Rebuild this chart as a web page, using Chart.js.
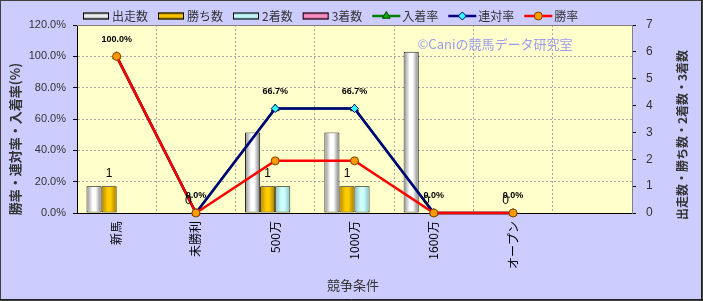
<!DOCTYPE html>
<html>
<head>
<meta charset="utf-8">
<script src="https://cdn.jsdelivr.net/npm/chart.js@4.4.1/dist/chart.umd.min.js"></script>
<style>
  html, body { margin: 0; padding: 0; background: #ccccff; }
</style>
</head>
<body>
<canvas id="chart" width="703" height="301"></canvas>
<script>
// data
const categories = ['新馬', '未勝利', '500万', '1000万', '1600万', 'オープン', ''];
const starts   = [1, 0, 3, 3, 6, 0, null];
const wins     = [1, 0, 1, 1, 0, 0, null];
const seconds  = [0, 0, 1, 1, 0, 0, null];
const thirds   = [0, 0, 0, 0, 0, 0, null];
const placeRate    = [100, 0, 66.7, 66.7, 0, 0, null];
const quinellaRate = [100, 0, 66.7, 66.7, 0, 0, null];
const winRate      = [100, 0, 33.3, 33.3, 0, 0, null];
const leftTicks  = [0, 20, 40, 60, 80, 100, 120];
const rightTicks = [0, 1, 2, 3, 4, 5, 6, 7];

const CJK = '"Noto Sans CJK JP", "Noto Sans", sans-serif';
const SANS = '"Liberation Sans", Arial, sans-serif';

function barSet(label, data, shade) {
    return {
        type: 'bar', label, data, yAxisID: 'y1', order: 4,
        backgroundColor: shade[1], borderColor: '#000', borderWidth: 1,
        borderSkipped: false, shade,
        categoryPercentage: 0.76, barPercentage: 1
    };
}

function lineSet(label, data, color, style, fill, edge, order) {
    return {
        type: 'line', label, data, yAxisID: 'y', order,
        borderColor: color, borderWidth: 2.5, tension: 0, clip: false,
        pointStyle: style, pointRadius: style === 'triangle' ? 4.5 : 4,
        pointBackgroundColor: fill, pointBorderColor: edge, pointBorderWidth: 1
    };
}

const datasets = [
    barSet('出走数', starts,  ['#8a8a8a', '#ffffff', '#7a7a7a']),
    barSet('勝ち数', wins,    ['#b08400', '#ffcc00', '#a07800']),
    barSet('2着数',  seconds, ['#88bbbb', '#ccffff', '#88bbbb']),
    barSet('3着数',  thirds,  ['#bb5588', '#ff99cc', '#bb5588']),
    lineSet('入着率', placeRate,    '#008000', 'triangle', '#00b000', '#004000', 3),
    lineSet('連対率', quinellaRate, '#000080', 'rectRot',  '#33ffff', '#000080', 2),
    lineSet('勝率',   winRate,      '#ff0000', 'circle',   '#ff9900', '#804000', 1)
];

// backgrounds and outer frame
const backdrop = {
    id: 'backdrop',
    beforeDraw(chart) {
        const { ctx, chartArea: a } = chart;
        ctx.save();
        ctx.fillStyle = '#ccccff';
        ctx.fillRect(0, 0, chart.width, chart.height);
        ctx.fillStyle = '#ffffcc';
        ctx.fillRect(a.left, a.top, a.right - a.left, a.bottom - a.top);
        ctx.restore();
    },
    beforeDatasetsDraw(chart) {
        const { ctx, chartArea: a } = chart;
        ctx.save();
        ctx.strokeStyle = '#808080';
        ctx.lineWidth = 1;
        ctx.beginPath();
        ctx.moveTo(a.left, a.top + 0.5); ctx.lineTo(a.right, a.top + 0.5);
        ctx.stroke();
        ctx.restore();
    },
    afterDraw(chart) {
        const ctx = chart.ctx;
        ctx.save();
        ctx.strokeStyle = '#404040';
        ctx.lineWidth = 1;
        ctx.strokeRect(0.5, 0.5, chart.width - 1, chart.height - 1);
        ctx.strokeStyle = '#202020';
        ctx.beginPath();
        ctx.moveTo(0, chart.height - 1.5); ctx.lineTo(chart.width, chart.height - 1.5);
        ctx.moveTo(chart.width - 1.5, 0); ctx.lineTo(chart.width - 1.5, chart.height);
        ctx.stroke();
        ctx.restore();
    }
};

// cylinder shading on the bars
const barShade = {
    id: 'barShade',
    afterDatasetDraw(chart, args) {
        const ds = chart.data.datasets[args.index];
        if (ds.type !== 'bar') return;
        const ctx = chart.ctx;
        ctx.save();
        args.meta.data.forEach(bar => {
            const { x, y, base, width } = bar.getProps(['x', 'y', 'base', 'width'], true);
            const h = base - y;
            if (!(h > 2)) return;
            const left = x - width / 2;
            const g = ctx.createLinearGradient(left, 0, left + width, 0);
            g.addColorStop(0, ds.shade[0]);
            g.addColorStop(0.4, ds.shade[1]);
            g.addColorStop(0.6, ds.shade[1]);
            g.addColorStop(1, ds.shade[2]);
            ctx.fillStyle = g;
            ctx.fillRect(left + 1, y + 1, width - 2, h - 2);
        });
        ctx.restore();
    }
};

// value labels, titles, watermark, legend
const labels = {
    id: 'labels',
    afterDatasetsDraw(chart) {
        const ctx = chart.ctx;
        ctx.save();
        ctx.textAlign = 'center';

        // counts over the 勝ち数 bars
        ctx.font = '12px ' + SANS;
        ctx.fillStyle = '#000';
        ctx.textBaseline = 'bottom';
        chart.getDatasetMeta(1).data.forEach((bar, i) => {
            if (wins[i] === null) return;
            ctx.fillText(String(wins[i]), bar.x, bar.y - 6);
        });

        // rates over the 連対率 points
        ctx.font = 'bold 9px ' + SANS;
        ctx.textBaseline = 'middle';
        chart.getDatasetMeta(5).data.forEach((pt, i) => {
            if (quinellaRate[i] === null) return;
            ctx.fillText(quinellaRate[i].toFixed(1) + '%', pt.x, pt.y - 17);
        });

        ctx.font = '13px ' + CJK;
        ctx.fillStyle = '#9c9cf0';
        ctx.fillText('©Caniの競馬データ研究室', 495, 44);
        ctx.restore();
    },
    afterDraw(chart) {
        const ctx = chart.ctx;
        ctx.save();
        ctx.fillStyle = '#333';
        ctx.textBaseline = 'middle';
        ctx.textAlign = 'center';

        ctx.font = 'bold 13px ' + CJK;
        ctx.save();
        ctx.translate(15, 139);
        ctx.rotate(-Math.PI / 2);
        ctx.fillText('勝率・連対率・入着率(%)', 0, 0);
        ctx.restore();

        ctx.font = 'bold 12px ' + CJK;
        ctx.save();
        ctx.translate(682, 135);
        ctx.rotate(-Math.PI / 2);
        ctx.fillText('出走数・勝ち数・2着数・3着数', 0, 0);
        ctx.restore();

        ctx.font = '13px ' + CJK;
        ctx.fillText('競争条件', 353, 285);

        // legend
        ctx.font = '12px ' + CJK;
        ctx.textAlign = 'left';
        let x = 83;
        const cy = 16;
        chart.data.datasets.forEach(ds => {
            if (ds.type === 'bar') {
                const g = ctx.createLinearGradient(0, cy - 3.5, 0, cy + 3.5);
                g.addColorStop(0, ds.shade[0]);
                g.addColorStop(0.5, ds.shade[1]);
                g.addColorStop(1, ds.shade[2]);
                ctx.fillStyle = g;
                ctx.fillRect(x, cy - 3.5, 26, 7);
                ctx.strokeStyle = '#000';
                ctx.lineWidth = 1;
                ctx.strokeRect(x + 0.5, cy - 3, 25, 6);
                x += 29;
            } else {
                ctx.strokeStyle = ds.borderColor;
                ctx.lineWidth = 2.5;
                ctx.beginPath();
                ctx.moveTo(x, cy); ctx.lineTo(x + 28, cy);
                ctx.stroke();
                ctx.fillStyle = ds.pointBackgroundColor;
                ctx.strokeStyle = ds.pointBorderColor;
                ctx.lineWidth = 1;
                Chart.helpers.drawPoint(ctx, { pointStyle: ds.pointStyle, radius: ds.pointRadius, rotation: 0, borderWidth: 1 }, x + 14, cy);
                x += 30;
            }
            ctx.fillStyle = '#333';
            ctx.fillText(ds.label, x, cy);
            x += ctx.measureText(ds.label).width + 10;
        });
        ctx.restore();
    }
};

const grid = { color: '#a8a8a8', tickLength: 4, tickColor: '#000', tickBorderDash: [] };

new Chart(document.getElementById('chart'), {
    data: { labels: categories, datasets },
    options: {
        responsive: false,
        animation: false,
        events: [],
        layout: { padding: { top: 25, left: 0, right: 0, bottom: 0 }, autoPadding: false },
        plugins: { legend: { display: false }, tooltip: { enabled: false } },
        scales: {
            x: {
                offset: true,
                grid: { color: '#a8a8a8', offset: true, drawTicks: false },
                border: { color: '#000', dash: [2, 2] },
                ticks: {
                    minRotation: 90, maxRotation: 90, padding: 8, autoSkip: false,
                    color: '#000', font: { size: 12, family: CJK }
                },
                afterFit(s) { s.height = 88; }
            },
            y: {
                position: 'left', min: 0, max: 120,
                afterBuildTicks(s) { s.ticks = leftTicks.map(v => ({ value: v })); },
                grid,
                border: { color: '#000', dash: [2, 2] },
                ticks: { padding: 7, color: '#333', font: { size: 11, family: SANS }, callback: v => v.toFixed(1) + '%' },
                afterFit(s) { s.width = 77; }
            },
            y1: {
                position: 'right', min: 0, max: 7,
                afterBuildTicks(s) { s.ticks = rightTicks.map(v => ({ value: v })); },
                grid: { drawOnChartArea: false, tickLength: 4, tickColor: '#000' },
                border: { color: '#808080' },
                ticks: { padding: 10, color: '#333', font: { size: 12, family: SANS } },
                afterFit(s) { s.width = 71; }
            }
        }
    },
    plugins: [backdrop, barShade, labels]
});
</script>
</body>
</html>
